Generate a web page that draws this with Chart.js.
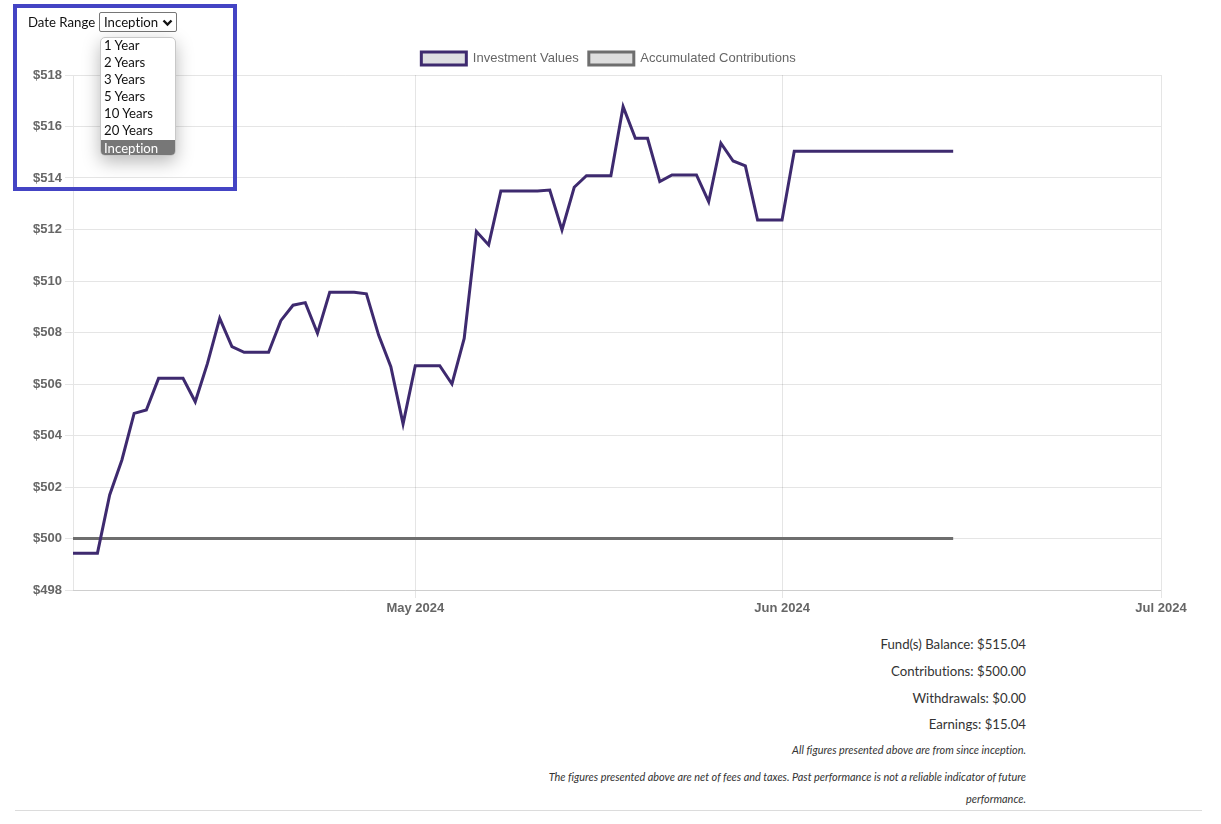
<!DOCTYPE html>
<html>
<head>
<meta charset="utf-8">
<script src="https://cdn.jsdelivr.net/npm/chart.js@4.4.1/dist/chart.umd.min.js"></script>
<style>
  html, body { margin: 0; padding: 0; background: #fff; width: 1221px; height: 824px; overflow: hidden; }
  body { position: relative; font-family: Lato, "Open Sans", sans-serif; color: #222; font-variant-ligatures: none; }
  #chartWrap { position: absolute; left: 15px; top: 42px; width: 1187px; height: 580px; }
  .abs { position: absolute; }
  #dateLabel { left: 28px; top: 12px; font-size: 13.2px; line-height: 20px; color: #111; }
  #selectBox { left: 99px; top: 12px; width: 76px; height: 18px; border: 1px solid #767676; border-radius: 2px;
    font-size: 13.2px; line-height: 18px; color: #111; background: #fff; box-sizing: content-box; }
  #selectBox span { position: absolute; left: 4px; top: 0; }
  #selectBox svg { position: absolute; right: 3px; top: 6px; }
  #dropList { left: 100px; top: 37px; width: 76px; height: 119px; background: #fff; border: 1px solid #c8c8c8;
    border-radius: 5px; box-shadow: 0 6px 18px rgba(0,0,0,0.28); overflow: hidden; box-sizing: border-box; }
  #dropList div { height: 17px; line-height: 15px; font-size: 13.2px; padding-left: 3px; color: #111; }
  #dropList div.sel { background: #777; color: #fff; line-height: 17px; }
  #blueBox { left: 13px; top: 4px; width: 216px; height: 179px; border: 4px solid #4444c4; }
  .stat { left: 0; width: 1026px; text-align: right; font-size: 13.2px; line-height: 20px; color: #333; }
  .note { left: 0; width: 1026px; text-align: right; font-size: 10.9px; line-height: 16px; font-style: italic; color: #333; }
  #rule { left: 15px; top: 810px; width: 1187px; height: 1px; background: #dcdcdc; }
</style>
</head>
<body>
<div id="chartWrap"><canvas id="c" width="1187" height="580" style="width:1187px;height:580px"></canvas></div>

<div class="abs" id="blueBox"></div>
<div class="abs" id="dateLabel">Date Range</div>
<div class="abs" id="selectBox"><span>Inception</span>
  <svg width="11" height="8" viewBox="0 0 11 8"><polyline points="1.5,1.5 5.5,5.5 9.5,1.5" fill="none" stroke="#111" stroke-width="2.4"/></svg>
</div>
<div class="abs" id="dropList">
  <div>1 Year</div><div>2 Years</div><div>3 Years</div><div>5 Years</div><div>10 Years</div><div>20 Years</div><div class="sel">Inception</div>
</div>

<div class="abs stat" style="top:634px">Fund(s) Balance: $515.04</div>
<div class="abs stat" style="top:661px">Contributions: $500.00</div>
<div class="abs stat" style="top:688px">Withdrawals: $0.00</div>
<div class="abs stat" style="top:714px">Earnings: $15.04</div>
<div class="abs note" style="top:742px">All figures presented above are from since inception.</div>
<div class="abs note" style="top:769px">The figures presented above are net of fees and taxes. Past performance is not a reliable indicator of future</div>
<div class="abs note" style="top:791px">performance.</div>
<div class="abs" id="rule"></div>

<script>
// ---- Data (one point per day, index = day since start of series) ----
const investmentValues = [
  499.43, 499.43, 499.43, 501.69, 503.05, 504.86, 504.99, 506.22, 506.22, 506.22,
  505.31, 506.80, 508.55, 507.45, 507.23, 507.23, 507.23, 508.46, 509.06, 509.16,
  507.97, 509.56, 509.56, 509.56, 509.50, 507.90, 506.67, 504.45, 506.71, 506.71,
  506.71, 506.00, 507.77, 511.92, 511.40, 513.50, 513.50, 513.50, 513.50, 513.53,
  511.98, 513.64, 514.09, 514.09, 514.09, 516.77, 515.54, 515.54, 513.86, 514.12,
  514.12, 514.12, 513.08, 515.35, 514.66, 514.47, 512.37, 512.37, 512.37, 515.04,
  515.04, 515.04, 515.04, 515.04, 515.04, 515.04, 515.04, 515.04, 515.04, 515.04,
  515.04, 515.04, 515.04
];
const contributionValues = [
  500, 500, 500, 500, 500, 500, 500, 500, 500, 500,
  500, 500, 500, 500, 500, 500, 500, 500, 500, 500,
  500, 500, 500, 500, 500, 500, 500, 500, 500, 500,
  500, 500, 500, 500, 500, 500, 500, 500, 500, 500,
  500, 500, 500, 500, 500, 500, 500, 500, 500, 500,
  500, 500, 500, 500, 500, 500, 500, 500, 500, 500,
  500, 500, 500, 500, 500, 500, 500, 500, 500, 500,
  500, 500, 500
];
const monthTickIndex = [28, 58, 89];
const monthTickLabels = ['May 2024', 'Jun 2024', 'Jul 2024'];
const seriesNames = ['Investment Values', 'Accumulated Contributions'];
const yMin = 498, yMax = 518, yStep = 2;

const toPoints = arr => arr.map((v, i) => ({ x: i, y: v }));

Chart.defaults.font.family = 'Arial, "Liberation Sans", Helvetica, sans-serif';
Chart.defaults.font.size = 13;
Chart.defaults.color = '#666';

new Chart(document.getElementById('c'), {
  type: 'line',
  data: {
    datasets: [
      {
        label: seriesNames[0],
        data: toPoints(investmentValues),
        borderColor: '#3e2a6f',
        backgroundColor: 'rgba(222,222,226,1)',
        borderWidth: 3,
        pointRadius: 0,
        tension: 0,
        fill: false
      },
      {
        label: seriesNames[1],
        data: toPoints(contributionValues),
        borderColor: '#6e6e6e',
        backgroundColor: 'rgba(222,222,222,1)',
        borderWidth: 3,
        pointRadius: 0,
        tension: 0,
        fill: false
      }
    ]
  },
  options: {
    responsive: false,
    animation: false,
    devicePixelRatio: 1,
    layout: { padding: 0 },
    plugins: {
      legend: {
        display: true,
        position: 'top',
        labels: { boxWidth: 45, boxHeight: 13, padding: 10, color: '#666', font: { size: 13 } }
      },
      tooltip: { enabled: false }
    },
    scales: {
      x: {
        type: 'linear',
        min: 0,
        max: 89,
        grid: { color: 'rgba(0,0,0,0.1)', tickLength: 8 },
        border: { color: 'rgba(0,0,0,0.1)' },
        afterBuildTicks: s => { s.ticks = monthTickIndex.map(v => ({ value: v })); },
        afterFit: s => { s.height = 32; s.paddingRight = 41; },
        ticks: {
          autoSkip: false,
          maxRotation: 0,
          color: '#666',
          font: { size: 13, weight: 'bold' },
          callback: (v, i) => monthTickLabels[i]
        }
      },
      y: {
        min: yMin,
        max: yMax,
        grid: { color: 'rgba(0,0,0,0.1)', tickLength: 8 },
        border: { color: 'rgba(0,0,0,0.1)' },
        afterFit: s => { s.width = 58; },
        ticks: {
          stepSize: yStep,
          color: '#666',
          font: { size: 13, weight: 'bold' },
          callback: v => '$' + v
        }
      }
    }
  }
});
</script>
</body>
</html>
